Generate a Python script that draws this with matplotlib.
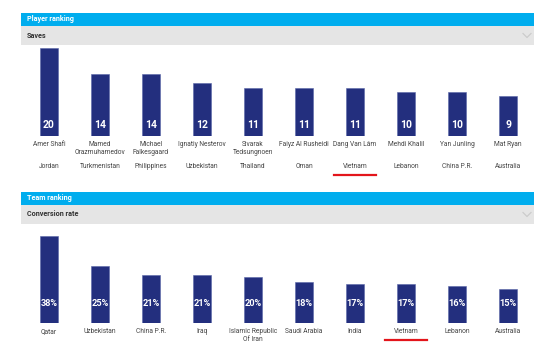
import matplotlib
matplotlib.use("Agg")
import matplotlib.pyplot as plt
from matplotlib.patches import Rectangle
from matplotlib.lines import Line2D
import matplotlib.transforms as mtransforms

# ---- data ----
player_names = ["Amer Shafi", "Mamed\nOrazmuhamedov", "Michael\nFalkesgaard", "Ignatiy Nesterov",
                "Sivarak\nTedsungnoen", "Faiyz Al Rusheidi", "Dang Van Lâm", "Mehdi Khalil",
                "Yan Junling", "Mat Ryan"]
player_countries = ["Jordan", "Turkmenistan", "Philippines", "Uzbekistan", "Thailand",
                    "Oman", "Vietnam", "Lebanon", "China P.R.", "Australia"]
saves = [20, 14, 14, 12, 11, 11, 11, 10, 10, 9]

team_names = ["Qatar", "Uzbekistan", "China P.R.", "Iraq", "Islamic Republic\nOf Iran",
              "Saudi Arabia", "India", "Vietnam", "Lebanon", "Australia"]
conversion = [38, 25, 21, 21, 20, 18, 17, 17, 16, 15]

# ---- style ----
W, H = 540, 360
BLUE = "#00ADEE"
GRAY = "#E5E5E5"
NAVY = "#232F7E"
RED = "#E3151B"
TXT = "#444444"
plt.rcParams['font.family'] = ['Roboto', 'DejaVu Sans']

fig = plt.figure(figsize=(W / 100, H / 100), dpi=100)
fig.patch.set_facecolor("white")

def fy(py):
    return 1 - py / H

def header(y_blue0, y_blue1, y_gray1, title, subtitle):
    fig.patches.append(Rectangle((21 / W, fy(y_blue1)), (534 - 21) / W, (y_blue1 - y_blue0) / H,
                                 transform=fig.transFigure, facecolor=BLUE, edgecolor="none", zorder=0))
    fig.patches.append(Rectangle((21 / W, fy(y_gray1)), (534 - 21) / W, (y_gray1 - y_blue1) / H,
                                 transform=fig.transFigure, facecolor=GRAY, edgecolor="none", zorder=0))
    fig.text(27 / W, fy((y_blue0 + y_blue1) / 2), title, color="white", fontsize=5.2,
             fontweight="bold", va="center", ha="left")
    fig.text(27 / W, fy((y_blue1 + y_gray1) / 2), subtitle, color="#333333", fontsize=5.2,
             fontweight="bold", va="center", ha="left")
    yc = (y_blue1 + y_gray1) / 2
    fig.lines.append(Line2D([523 / W, 527 / W, 531 / W], [fy(yc - 2), fy(yc + 2), fy(yc - 2)],
                            transform=fig.transFigure, color="#CCCCCC", lw=0.9))

def panel(y_top, y_bot, values, vmax_px, labels_fmt, label_off_px, label_size):
    ax = fig.add_axes([21 / W, fy(y_bot), (534 - 21) / W, (y_bot - y_top) / H])
    x0, dx = 49, 51.0
    ax.set_xlim((21 - x0) / dx, (534 - x0) / dx)
    top_val = values[0]
    ax.set_ylim(0, top_val * (y_bot - y_top) / vmax_px)
    xs = list(range(len(values)))
    ax.bar(xs, values, width=18 / dx, color=NAVY, edgecolor="#5A66A8", linewidth=0.4)
    ax.axis("off")
    for x, v in zip(xs, values):
        ax.annotate(labels_fmt(v), (x, 0), xytext=(0, label_off_px * 0.72), textcoords="offset points",
                    ha="center", va="center", color="white", fontsize=label_size, fontweight="bold")
    return ax

# ---- top panel ----
header(12.7, 26, 45, "Player ranking", "Saves")
ax1 = panel(46, 136, saves, 88, lambda v: f"{v}", 11, 7.5)
tr1 = mtransforms.blended_transform_factory(ax1.transData, fig.transFigure)
for i, (n, c) in enumerate(zip(player_names, player_countries)):
    ax1.text(i, fy(141), n, transform=tr1, ha="center", va="top", fontsize=4.8,
             color=TXT, linespacing=1.25, clip_on=False)
    ax1.text(i, fy(166), c, transform=tr1, ha="center", va="center", fontsize=4.8,
             color=TXT, clip_on=False)
vi = player_countries.index("Vietnam")
ax1.add_line(Line2D([vi - 21 / 51, vi + 21 / 51], [fy(175), fy(175)], transform=tr1,
                    color=RED, lw=1.6, clip_on=False))

# ---- bottom panel ----
header(191.7, 205, 224, "Team ranking", "Conversion rate")
ax2 = panel(234, 323, conversion, 87, lambda v: f"{v}%", 19, 6.6)
tr2 = mtransforms.blended_transform_factory(ax2.transData, fig.transFigure)
for i, n in enumerate(team_names):
    ax2.text(i, fy(328), n, transform=tr2, ha="center", va="top", fontsize=4.8,
             color=TXT, linespacing=1.25, clip_on=False)
vi2 = team_names.index("Vietnam")
ax2.add_line(Line2D([vi2 - 21 / 51, vi2 + 21 / 51], [fy(340), fy(340)], transform=tr2,
                    color=RED, lw=1.6, clip_on=False))

fig.savefig("out.png", dpi=100, facecolor="white")
